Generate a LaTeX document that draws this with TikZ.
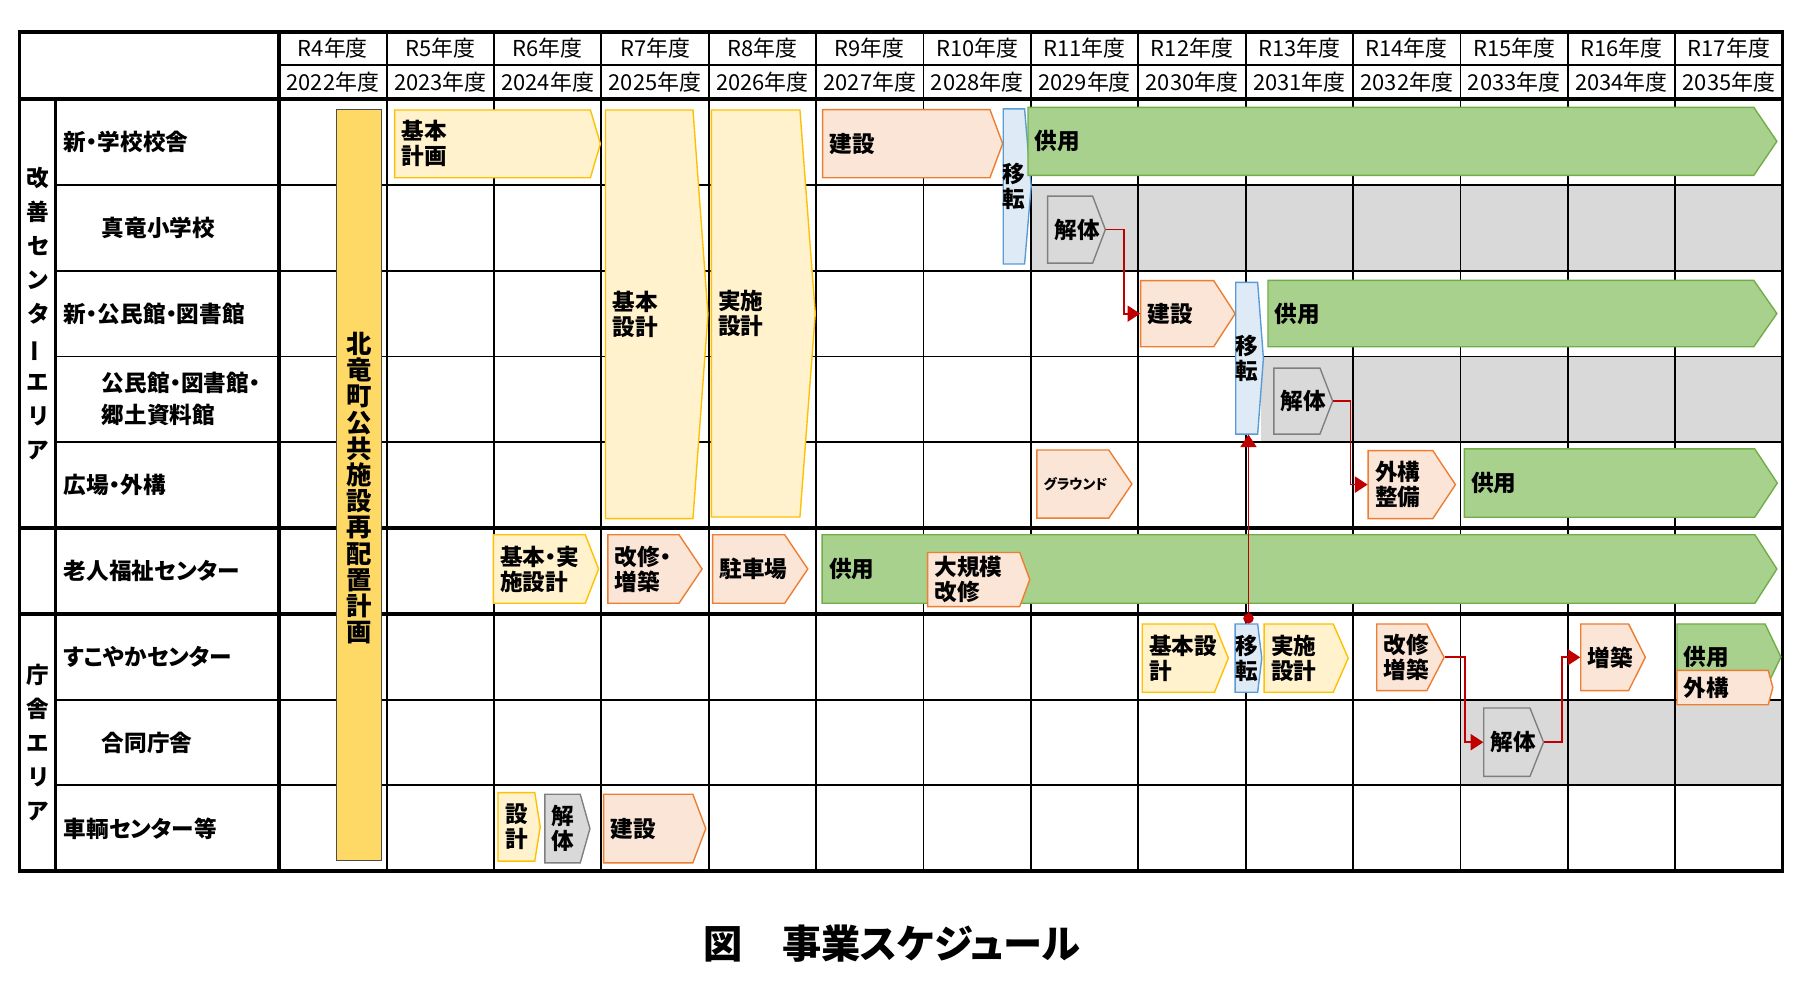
\documentclass[tikz,border=0pt]{standalone}
\usepackage{fontspec}
\setmainfont{Noto Sans CJK JP}[RawFeature=+palt]
\usetikzlibrary{arrows.meta, fit, calc}

\definecolor{kiiro}{HTML}{FFF2CC}
\definecolor{kiiroline}{HTML}{FFC000}
\definecolor{daidai}{HTML}{FBE5D6}
\definecolor{daidailine}{HTML}{ED7D31}
\definecolor{midori}{HTML}{A9D18E}
\definecolor{midoriline}{HTML}{70AD47}
\definecolor{ao}{HTML}{DEEBF7}
\definecolor{aoline}{HTML}{5B9BD5}
\definecolor{hai}{HTML}{D9D9D9}
\definecolor{hailine}{HTML}{7F7F7F}
\definecolor{keikakuiro}{HTML}{FFD966}
\definecolor{aka}{HTML}{C00000}

\tikzset{
  plan/.style = {fill=kiiro, draw=kiiroline, line width=0.6pt},
  build/.style = {fill=daidai, draw=daidailine, line width=0.6pt},
  inuse/.style = {fill=midori, draw=midoriline, line width=0.6pt},
  move/.style = {fill=ao, draw=aoline, line width=0.6pt},
  demolish/.style = {fill=hai, draw=hailine, line width=0.6pt},
  band/.style = {fill=hai},
  phasetext/.style = {font=\fontsize{9.8}{10.8}\selectfont\bfseries, align=left, inner sep=3pt},
  rowtext/.style = {font=\fontsize{9.8}{14}\selectfont\bfseries, align=left, anchor=west, inner sep=0pt},
  areatext/.style = {font=\fontsize{9.8}{14.75}\selectfont\bfseries, align=center, inner sep=0pt},
  yeartext/.style = {font=\fontsize{9.5}{11}\selectfont},
  thin/.style = {line width=0.8pt},
  thick/.style = {line width=1.6pt},
  link/.style = {draw=aka, line width=0.75pt, -{Triangle[length=5.5pt, width=7pt]}}
}

% bar with pointed right end: name, style, x1, y1, x2, y2, tip, text
\newcommand{\stagebar}[8]{%
  \path[#2] (#3,#4) -- ({#5-#7},#4) -- (#5,{(#4+#6)/2}) -- ({#5-#7},#6) -- (#3,#6) -- cycle;
  \node[fit={(#3,#4) (#5,#6)}, inner sep=0pt] (#1) {};
  \node[phasetext, anchor=west] (#1t) at (#1.west) {#8};
}
% same, label centred
\newcommand{\stagebarc}[8]{%
  \path[#2] (#3,#4) -- ({#5-#7},#4) -- (#5,{(#4+#6)/2}) -- ({#5-#7},#6) -- (#3,#6) -- cycle;
  \node[fit={(#3,#4) (#5,#6)}, inner sep=0pt] (#1) {};
  \node[phasetext, align=center, inner sep=0pt] (#1t) at ({(#3+#5-#7)/2},{(#4+#6)/2}) {#8};
}

\begin{document}
\begin{tikzpicture}[x=0.5pt, y=-0.5pt]
    \useasboundingbox (0,0) rectangle (1567,853);

    % Gray bands
    \path[band] (894,160.3) rectangle (1545,234.7);
    \path[band] (1093,309) rectangle (1545,383.3);
    \path[band] (1265.3,606.3) rectangle (1545,680.7);

    % Grid
    \foreach \i in {1,...,13}
        \draw[thin] ({242+\i*93.07},27.5) -- ({242+\i*93.07},755);
    \draw[thin] (242,56) -- (1545,56);
    \foreach \j in {1,2,3,4,7,8}
        \draw[thin] (48,{86+\j*74.33}) -- (1545,{86+\j*74.33});
    \foreach \j in {0,5,6}
        \draw[thick] (17,{86+\j*74.33}) -- (1545,{86+\j*74.33});
    \draw[thick] (48,86) -- (48,755);
    \draw[thick] (242,27.5) -- (242,755);
    \draw[thick] (17,27.5) rectangle (1545,755);

    % Header
    \foreach \r [count=\i] in {4,...,17} {
        \pgfmathtruncatemacro{\ad}{2018+\r}
        \node[yeartext] (wareki\r) at ({242+(\i-0.5)*93.07},41.5) {R\r{}年度};
        \node[yeartext] (seireki\r) at ({242+(\i-0.5)*93.07},71.5) {\ad{}年度};
    }

    % Row labels
    \node[areatext] (kaizen) at (33,272) {改\\善\\セ\\ン\\タ\\\rotatebox[origin=c]{90}{ー}\\エ\\リ\\ア};
    \node[areatext] (chosha) at (33,643.5) {庁\\舎\\エ\\リ\\ア};
    \node[rowtext] (gakko) at (55,123) {新・学校校舎};
    \node[rowtext] (shinryu) at (88,197.5) {真竜小学校};
    \node[rowtext] (kominkan) at (55,272) {新・公民館・図書館};
    \node[rowtext] (kyodo) at (88,346) {公民館・図書館・\\郷土資料館};
    \node[rowtext] (hiroba) at (55,420.5) {広場・外構};
    \node[rowtext] (rojin) at (55,495) {老人福祉センター};
    \node[rowtext] (sukoyaka) at (55,569) {すこやかセンター};
    \node[rowtext] (godo) at (88,643.5) {合同庁舎};
    \node[rowtext] (sharyo) at (55,718) {車輌センター等};

    % Plan bar
    \node[fill=keikakuiro, draw=black!70, line width=0.6pt, inner sep=0pt,
          fit={(291.5,95) (330.5,746)}] (saihaichi) {};
    \node[font=\fontsize{11}{11.35}\selectfont\bfseries, align=center, inner sep=0pt]
        (saihaichit) at (311,423) {北\\竜\\町\\公\\共\\施\\設\\再\\配\\置\\計\\画};

    % Design phases
    \stagebar{keikaku}{plan}{342}{95.3}{520.4}{154}{8.7}{基本\\計画}
    \stagebar{kihon}{plan}{524.8}{95.3}{613.6}{449.5}{13}{基本\\設計}
    \stagebar{jisshi}{plan}{616.5}{95.3}{706.6}{448.1}{13.3}{実施\\設計}

    % School
    \stagebar{kensetsuA}{build}{713}{95}{869}{154}{11}{建設}
    \stagebarc{itenA}{move}{869.5}{94.4}{893.7}{228.8}{5.7}{移\\転}
    \stagebar{kyoyoA}{inuse}{891}{93}{1540}{152}{20}{供用}
    \stagebar{kaitaiA}{demolish}{908}{170}{958}{228}{11}{解体}

    % Community hall
    \stagebar{kensetsuB}{build}{988.6}{243.2}{1070.5}{300.5}{18.6}{建設}
    \stagebarc{itenB}{move}{1071}{244.7}{1095}{376.2}{5}{移\\転}
    \stagebar{kyoyoB}{inuse}{1099}{243}{1540}{300.5}{20}{供用}
    \stagebar{kaitaiB}{demolish}{1104}{319}{1155}{376.2}{11}{解体}

    % Square
    \stagebar{ground}{build}{898.6}{390}{981}{449}{20}{\fontsize{6}{7}\selectfont グラウンド}
    \stagebar{gaikoA}{build}{1185.7}{390.5}{1261.4}{449.5}{19.6}{外構\\整備}
    \stagebar{kyoyoC}{inuse}{1269.2}{389}{1540.4}{448.3}{19.6}{供用}

    % Elderly centre
    \stagebar{kihonjisshi}{plan}{427.6}{463.5}{518.8}{522.8}{11.5}{基本・実\\施設計}
    \stagebar{kaishuA}{build}{526.8}{463.5}{608.5}{522.8}{20}{改修・\\増築}
    \stagebar{chushajo}{build}{617.6}{463.5}{700.1}{522.8}{20}{駐車場}
    \stagebar{kyoyoD}{inuse}{712.5}{463.5}{1540}{522.8}{19}{供用}
    \stagebar{daikibo}{build}{804}{478.8}{892.5}{525.7}{8.7}{大規模\\改修}

    % Sukoyaka centre
    \stagebar{kihonB}{plan}{990}{540.8}{1064.6}{600}{12}{基本設\\計}
    \stagebarc{itenC}{move}{1070.5}{540.8}{1093.6}{600}{3.6}{移\\転}
    \stagebar{jisshiB}{plan}{1095.6}{540.8}{1168.5}{600}{13}{実施\\設計}
    \stagebar{kaishuB}{build}{1193.2}{540.8}{1251.6}{598.6}{15}{改修\\増築}
    \stagebar{zochiku}{build}{1370}{540.8}{1426}{598.6}{14.5}{増築}
    \stagebar{kyoyoE}{inuse}{1453.4}{540.8}{1543.5}{598}{13.7}{供用}
    \stagebar{gaikoB}{build}{1453.4}{581}{1536.5}{610.8}{4}{外構}

    % Joint office
    \stagebar{kaitaiC}{demolish}{1286}{613.6}{1337.8}{672.9}{11.8}{解体}

    % Vehicle centre
    \stagebarc{sekkei}{plan}{431.6}{687}{468.2}{746.3}{4.7}{設\\計}
    \stagebarc{kaitaiD}{demolish}{472.2}{688.4}{511.3}{747.8}{8.4}{解\\体}
    \stagebar{kensetsuC}{build}{523.2}{688.4}{611.7}{747.8}{11.2}{建設}

    % Links
    \draw[link] (kaitaiA.east) -- ++(15.5,0) |- (kensetsuB.west);
    \draw[link] (kaitaiB.east) -- ++(15,0) |- (gaikoA.west);
    \draw[link] (kaishuB.east) -- ++(17.5,0) |- (kaitaiC.west);
    \draw[link] (kaitaiC.east) -- ++(15.5,0) |- (zochiku.west);
    \draw[link, {Circle[length=4.5pt]}-{Triangle[length=5.5pt, width=7pt]}]
        (itenC.north) -- (itenC.north |- itenB.south);

    % Caption
    \node[font=\fontsize{17}{19}\selectfont\bfseries] (caption) at (773,818) {図　事業スケジュール};
\end{tikzpicture}
\end{document}
